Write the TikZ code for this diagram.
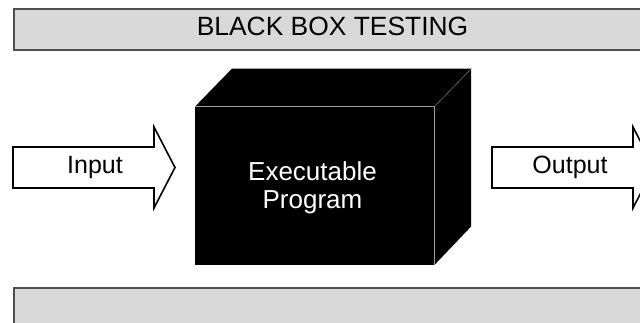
\documentclass[tikz,border=0pt]{standalone}
\usepackage{fontspec}
\setmainfont{Liberation Sans}
\usetikzlibrary{positioning}

\definecolor{barfill}{HTML}{D9D9D9}
\definecolor{barline}{HTML}{505050}
\definecolor{edgegray}{HTML}{A0A0A0}

\tikzset{
  bar/.style={draw=barline, fill=barfill, line width=2pt, anchor=north west,
    minimum width=660pt, minimum height=41pt, inner sep=0pt},
  titletext/.style={font=\fontsize{26.4}{30}\selectfont, inner sep=0pt},
  label/.style={font=\fontsize{25}{30}\selectfont, inner sep=0pt, anchor=base},
  front/.style={fill=black, text=white, align=center, anchor=south west,
    minimum width=239pt, minimum height=158pt, inner sep=0pt,
    font=\fontsize{26}{28}\selectfont},
  blockarrow/.style={draw=black, fill=white, line width=1.6pt, line join=miter},
}

\begin{document}
\begin{tikzpicture}[x=1pt,y=1pt]
  \useasboundingbox (0,0) rectangle (640,323);
  \clip (0,0) rectangle (640,323);

  % title bar and bottom bar
  \node[bar] (topbar) at (13,315) {};
  \node[titletext] (title) at (332.5,296.5) {BLACK BOX TESTING};
  \node[bar, minimum height=60pt] (botbar) at (13,36) {};

  % the black box
  \node[front] (prog) at (195,58) {};
  \fill[black] (prog.north west) -- ++(37,38) -- ++(239,0) -- ++(0,-158)
    -- (prog.south east) -- (prog.north east) -- cycle;
  \draw[edgegray, line width=0.8pt] (prog.north west) -- (prog.north east)
    -- (prog.south east);
  \draw[edgegray!70!black, line width=0.6pt] (prog.north east) -- ++(37,38);
  \node[front, fill=none, minimum width=0pt, minimum height=0pt, anchor=base]
    (progtext) at (312.5,114.5) {Executable\\Program};

  % input arrow
  \draw[blockarrow] (13,135) -- (154,135) -- (154,115) -- (175,155.5)
    -- (154,196) -- (154,176) -- (13,176) -- cycle;
  \node[label] (input) at (95,149.5) {Input};

  % output arrow
  \draw[blockarrow] (492,135) -- (633,135) -- (633,115) -- (654,155.5)
    -- (633,196) -- (633,176) -- (492,176) -- cycle;
  \node[label] (output) at (570,149.5) {Output};
\end{tikzpicture}
\end{document}
